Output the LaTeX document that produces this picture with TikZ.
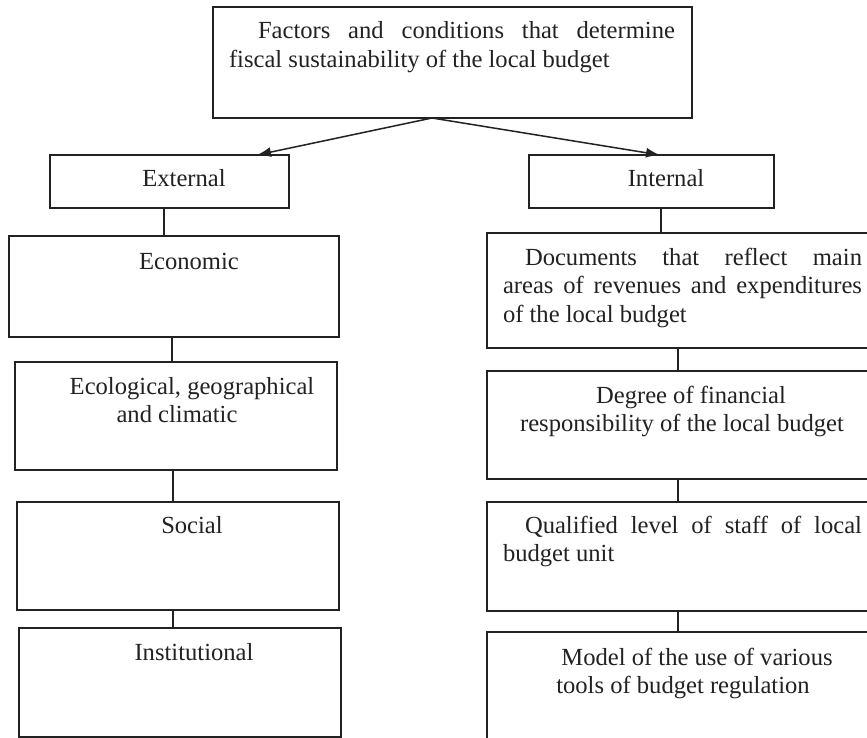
\documentclass[tikz,border=0pt]{standalone}
\usepackage{fontspec}
\setmainfont{Liberation Serif}
\usetikzlibrary{arrows.meta,calc}
\definecolor{ink}{HTML}{222222}
\tikzset{
  box/.style={draw=ink, line width=1.3pt, rectangle, inner sep=0pt, outer sep=0pt, anchor=north west},
  txt/.style={text=ink, inner sep=0pt, outer sep=0pt, font=\fontsize{24.6}{28.5}\selectfont},
  par/.style={txt, anchor=north west, align=justify},
  ctr/.style={txt, anchor=north, align=center},
  one/.style={txt, anchor=base},
  link/.style={draw=ink, line width=1.3pt},
  arr/.style={draw=ink, line width=1.5pt, -{Latex[length=14pt,width=10pt]}}
}
\begin{document}
\begin{tikzpicture}[x=1pt,y=-1pt]
\clip (0,0) rectangle (867,738);
\fill[white] (0,0) rectangle (867,738);

% boxes
\node[box, minimum width=479, minimum height=111] (top) at (213,7) {};
\node[box, minimum width=239, minimum height=53] (ext) at (50,155) {};
\node[box, minimum width=245, minimum height=53] (int) at (529,155) {};
\node[box, minimum width=330, minimum height=101] (eco) at (9,236) {};
\node[box, minimum width=322, minimum height=108] (ecl) at (15,362) {};
\node[box, minimum width=322, minimum height=108] (soc) at (17,502) {};
\node[box, minimum width=322, minimum height=109] (ins) at (19,628) {};
\node[box, minimum width=400, minimum height=115] (doc) at (487,233) {};
\node[box, minimum width=400, minimum height=108] (deg) at (487,371) {};
\node[box, minimum width=400, minimum height=109] (qua) at (487,502) {};
\node[box, minimum width=400, minimum height=130] (mod) at (487,632) {};

% texts
\node[par, text width=446] (ttop) at (229,{39-19.95}) {\strut\hspace*{29pt}Factors and conditions that determine\linebreak fiscal sustainability of the local budget};
\node[one] (text) at (184,187) {External};
\node[one] (tint) at (666,187) {Internal};
\node[one] (teco) at (189,269) {Economic};
\node[ctr] (tecl) at (177,{394-19.95}) {\strut\hspace*{30pt}Ecological, geographical\\and climatic};
\node[one] (tsoc) at (192,533) {Social};
\node[one] (tins) at (194,660) {Institutional};
\node[par, text width=359] (tdoc) at (503,{265-19.95}) {\strut\hspace*{22pt}Documents that reflect main\linebreak areas of revenues and expenditures\linebreak of the local budget};
\node[ctr] (tdeg) at (682,{403-19.95}) {\strut\hspace*{18pt}Degree of financial\\responsibility of the local budget};
\node[par, text width=359] (tqua) at (503,{533-19.95}) {\strut\hspace*{22pt}Qualified level of staff of local\linebreak budget unit};
\node[ctr] (tmod) at (683,{665-19.95}) {\strut\hspace*{28pt}Model of the use of various\\tools of budget regulation};

% connector positions
\coordinate (o) at ($(top.south west)+(219,0)$);
\coordinate (tipL) at ($(ext.north west)+(207,0)$);
\coordinate (tipR) at ($(int.north west)+(131,0)$);
\coordinate (xa) at (164,0);
\coordinate (xb) at (172,0);
\coordinate (xc) at (173,0);
\coordinate (xd) at (661,0);
\coordinate (xe) at (678,0);

\draw[arr] (o) -- (tipL);
\draw[arr] (o) -- (tipR);
\draw[link] (ext.south -| xa) -- (eco.north -| xa);
\draw[link] (eco.south -| xb) -- (ecl.north -| xb);
\draw[link] (ecl.south -| xc) -- (soc.north -| xc);
\draw[link] (soc.south -| xc) -- (ins.north -| xc);
\draw[link] (int.south -| xd) -- (doc.north -| xd);
\draw[link] (doc.south -| xe) -- (deg.north -| xe);
\draw[link] (deg.south -| xe) -- (qua.north -| xe);
\draw[link] (qua.south -| xe) -- (mod.north -| xe);
\end{tikzpicture}
\end{document}
